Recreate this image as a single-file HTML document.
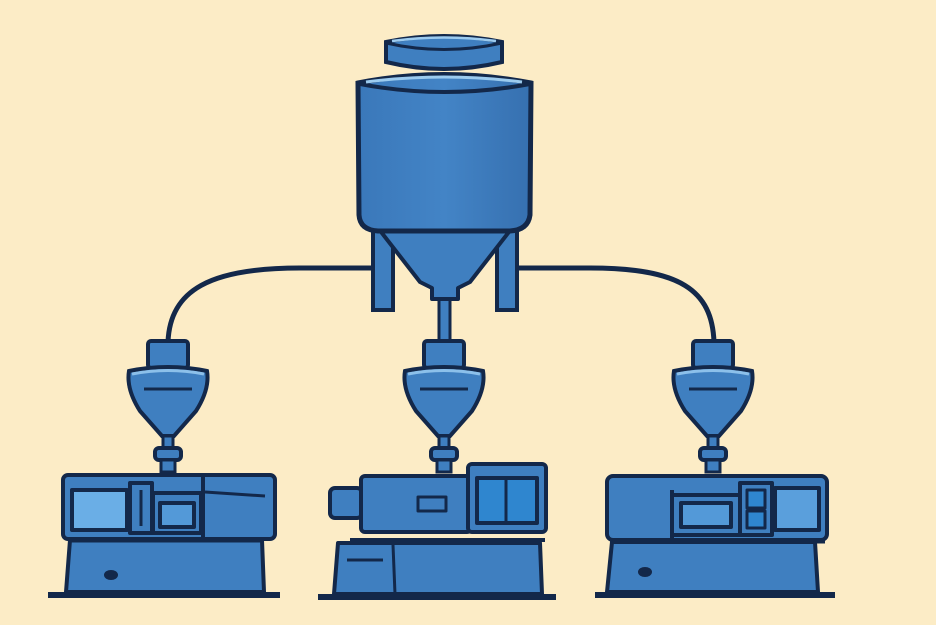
<!DOCTYPE html>
<html><head><meta charset="utf-8"><style>
html,body{margin:0;padding:0;background:#fcecc6;}
svg{display:block;}
</style></head><body>
<svg width="936" height="625" viewBox="0 0 936 625" xmlns="http://www.w3.org/2000/svg">
<defs>
<linearGradient id="bl" x1="0" x2="1" y1="0" y2="0">
<stop offset="0" stop-color="#3a78ba"/><stop offset="0.5" stop-color="#4384c6"/><stop offset="1" stop-color="#3670b0"/></linearGradient>
<g id="hop">
<rect x="-20" y="0" width="40" height="27" rx="3" fill="#3f7fc0" stroke="#13284a" stroke-width="4"/>
<path d="M-39 30 Q0 22 39 30 Q42 48 28 70 L6 95 L-6 95 L-28 70 Q-42 48 -39 30Z" fill="#3f7fc0" stroke="#13284a" stroke-width="4"/>
<path d="M-36 33 Q0 26 36 33" fill="none" stroke="#8cc0ea" stroke-width="3"/>
<line x1="-24" y1="48" x2="24" y2="48" stroke="#13284a" stroke-width="3"/>
<rect x="-5" y="95" width="10" height="12" fill="#3f7fc0" stroke="#13284a" stroke-width="3"/>
<rect x="-13" y="107" width="26" height="12" rx="4" fill="#3f7fc0" stroke="#13284a" stroke-width="4"/>
<rect x="-7" y="119" width="14" height="12" fill="#3f7fc0" stroke="#13284a" stroke-width="3"/>
</g>
</defs>
<rect width="936" height="625" fill="#fcecc6"/>
<!-- pipes -->
<path d="M372 268 L300 268 C210 268 170 290 168 342" fill="none" stroke="#13284a" stroke-width="5"/>
<path d="M518 268 L590 268 C680 268 712 290 714 342" fill="none" stroke="#13284a" stroke-width="5"/>
<rect x="439" y="296" width="11" height="48" fill="#3f7fc0" stroke="#13284a" stroke-width="3"/>
<!-- tank -->
<rect x="373" y="225" width="20" height="85" fill="#3f7fc0" stroke="#13284a" stroke-width="4"/>
<rect x="497" y="225" width="20" height="85" fill="#3f7fc0" stroke="#13284a" stroke-width="4"/>
<path d="M378 228 L512 228 L470 282 L458 288 L458 299 L432 299 L432 288 L420 282 Z" fill="#3f7fc0" stroke="#13284a" stroke-width="4" stroke-linejoin="round"/>
<path d="M358 83 Q444 66 531 83 L530 215 Q528 230 510 231 L378 231 Q360 230 359 215 Z" fill="url(#bl)" stroke="#13284a" stroke-width="5"/>
<path d="M360 84 Q444 100 530 84" fill="none" stroke="#13284a" stroke-width="4"/>
<path d="M366 82 Q444 72 522 82" fill="none" stroke="#9ccbef" stroke-width="3"/>
<path d="M386 42 Q444 30 502 42 L502 62 Q444 76 386 62 Z" fill="#3f7fc0" stroke="#13284a" stroke-width="4"/>
<path d="M386 43 Q444 56 502 43" fill="none" stroke="#13284a" stroke-width="3"/>
<path d="M392 41 Q444 34 496 41" fill="none" stroke="#9ccbef" stroke-width="2.5"/>
<!-- hoppers -->
<use href="#hop" x="168" y="341"/>
<use href="#hop" x="444" y="341"/>
<use href="#hop" x="713" y="341"/>
<!-- left machine -->
<g stroke="#13284a" stroke-width="4" fill="#3f7fc0" stroke-linejoin="round">
<path d="M70 540 L262 540 L264 592 L66 592 Z"/>
<line x1="48" y1="595" x2="280" y2="595" stroke-width="6"/>
<ellipse cx="111" cy="575" rx="5" ry="3" fill="#13284a"/>
<rect x="63" y="475" width="212" height="64" rx="5"/>
<rect x="72" y="490" width="55" height="40" fill="#6aaee6"/>
<rect x="130" y="483" width="22" height="50"/>
<line x1="141" y1="490" x2="141" y2="526" stroke-width="3"/>
<rect x="153" y="493" width="48" height="40"/>
<rect x="160" y="503" width="34" height="24" fill="#5399d8"/>
<line x1="203" y1="477" x2="203" y2="537"/>
<line x1="205" y1="492" x2="265" y2="496" stroke-width="3"/>
<line x1="70" y1="540" x2="262" y2="540" stroke-width="5"/>
</g>
<!-- middle machine -->
<g stroke="#13284a" stroke-width="4" fill="#3f7fc0" stroke-linejoin="round">
<path d="M338 543 L540 543 L542 594 L334 594 Z"/>
<line x1="318" y1="597" x2="556" y2="597" stroke-width="6"/>
<line x1="393" y1="545" x2="395" y2="594" stroke-width="3"/>
<line x1="347" y1="560" x2="383" y2="560" stroke-width="3"/>
<rect x="330" y="488" width="32" height="30" rx="5"/>
<rect x="361" y="476" width="110" height="56" rx="4"/>
<rect x="418" y="497" width="28" height="14" stroke-width="3"/>
<rect x="468" y="464" width="78" height="68" rx="4"/>
<rect x="477" y="478" width="60" height="45" fill="#2f86cf"/>
<line x1="506" y1="478" x2="506" y2="523" stroke-width="3"/>
<line x1="350" y1="540" x2="545" y2="540" stroke-width="4"/>
</g>
<!-- right machine -->
<g stroke="#13284a" stroke-width="4" fill="#3f7fc0" stroke-linejoin="round">
<path d="M612 542 L815 542 L818 592 L607 592 Z"/>
<line x1="595" y1="595" x2="835" y2="595" stroke-width="6"/>
<ellipse cx="645" cy="572" rx="5" ry="3" fill="#13284a"/>
<rect x="607" y="476" width="220" height="64" rx="6"/>
<line x1="672" y1="490" x2="672" y2="538"/>
<rect x="672" y="495" width="68" height="40"/>
<rect x="681" y="503" width="50" height="24" fill="#5399d8"/>
<rect x="740" y="483" width="32" height="52"/>
<rect x="747" y="490" width="18" height="18" fill="#2f86cf" stroke-width="3"/>
<rect x="747" y="511" width="18" height="17" fill="#2f86cf" stroke-width="3"/>
<rect x="775" y="488" width="44" height="42" fill="#5a9fdc"/>
<line x1="610" y1="541" x2="825" y2="541" stroke-width="5"/>
</g>
</svg>
</body></html>
